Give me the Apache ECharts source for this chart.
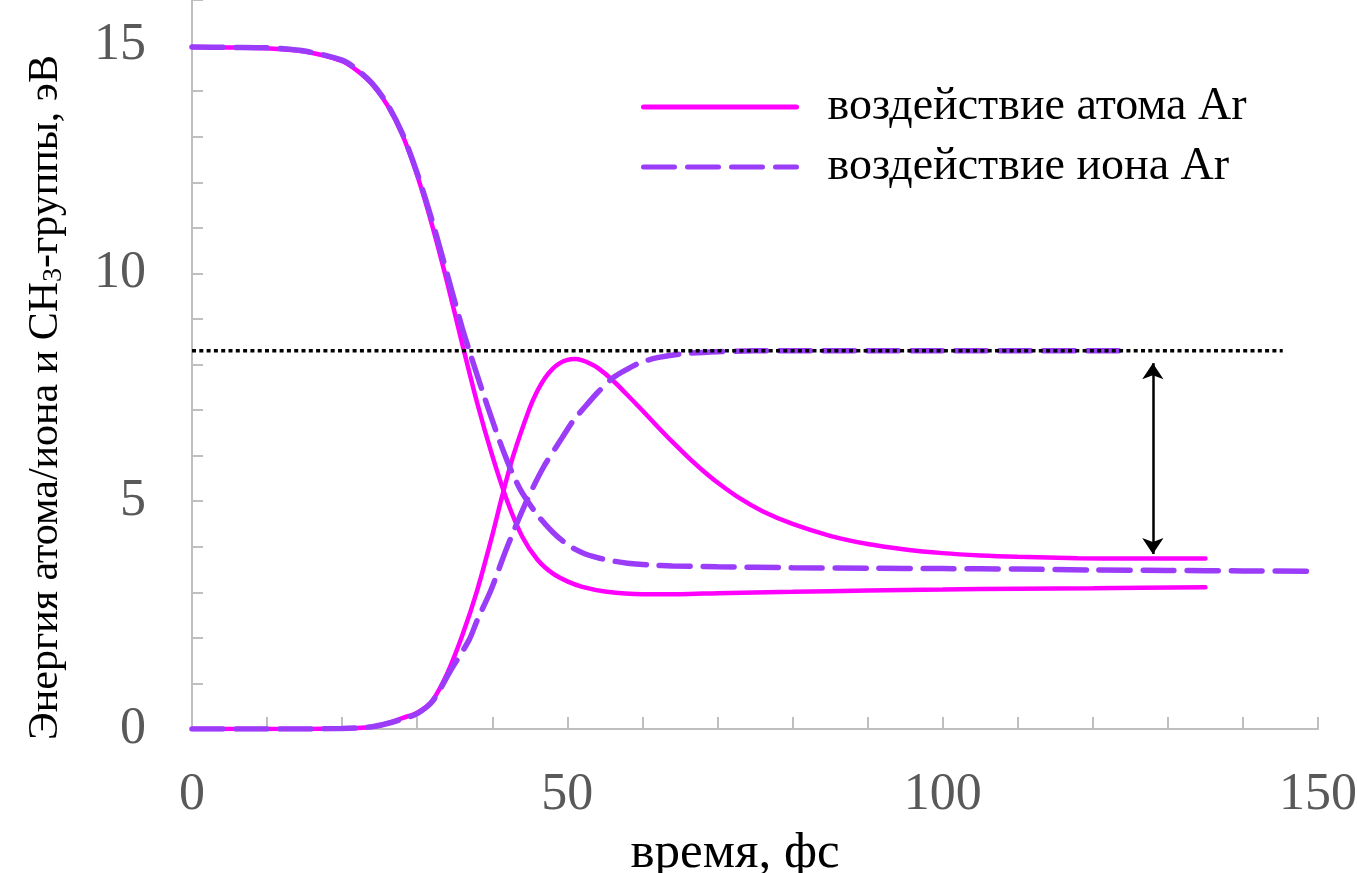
<!DOCTYPE html>
<html>
<head>
<meta charset="utf-8">
<title>Энергия атома/иона и CH3-группы</title>
<script src="https://cdn.jsdelivr.net/npm/echarts@6/dist/echarts.min.js"></script>
<style>
  html, body { margin: 0; padding: 0; background: #fff; }
  #chart { width: 1357px; height: 873px; }
</style>
</head>
<body>
<div id="chart"></div>
<script>
// время, фс / энергия, эВ
const atomDownT = [0, 5, 10, 15, 20, 22, 24, 26, 28, 30, 32, 34, 36, 38, 40, 42, 44, 46, 48, 50, 52, 55, 60, 65, 70, 80, 90, 100, 110, 120, 135];
const atomDownE = [14.97, 14.96, 14.94, 14.87, 14.66, 14.45, 14.15, 13.7, 13.05, 12.15, 11.05, 9.8, 8.45, 7.15, 6.0, 5.0, 4.22, 3.72, 3.42, 3.24, 3.12, 3.02, 2.96, 2.96, 2.98, 3.01, 3.04, 3.06, 3.08, 3.09, 3.11];

const atomUpT = [0, 10, 20, 24, 26, 28, 30, 32, 34, 36, 38, 40, 41.3, 42.8, 45, 46, 47, 48, 49, 50, 51, 52, 53, 54, 56, 58, 60, 62, 64, 66, 68, 70, 73, 76, 80, 85, 90, 95, 100, 105, 110, 118, 125, 135];
const atomUpE = [0, 0, 0.01, 0.05, 0.12, 0.24, 0.36, 0.62, 1.22, 2.05, 3.05, 4.25, 5.1, 6.0, 7.05, 7.42, 7.7, 7.9, 8.03, 8.1, 8.12, 8.09, 8.02, 7.93, 7.66, 7.33, 6.99, 6.64, 6.3, 5.98, 5.68, 5.41, 5.06, 4.78, 4.5, 4.24, 4.06, 3.94, 3.86, 3.81, 3.78, 3.75, 3.74, 3.74];

const ionDownT = [0, 5, 10, 15, 20, 22, 24, 26, 28, 30, 32, 34, 36, 37, 38, 39, 40, 41, 42, 43, 44, 46, 48, 50, 52, 54, 56, 58, 61, 64, 70, 80, 90, 100, 110, 120, 130, 140, 150];
const ionDownE = [14.97, 14.96, 14.95, 14.88, 14.68, 14.47, 14.17, 13.72, 13.08, 12.2, 11.15, 9.98, 8.8, 8.27, 7.76, 7.26, 6.78, 6.31, 5.88, 5.5, 5.18, 4.7, 4.33, 4.05, 3.87, 3.76, 3.69, 3.64, 3.6, 3.58, 3.56, 3.54, 3.53, 3.52, 3.51, 3.49, 3.48, 3.47, 3.46];

const ionUpT = [0, 10, 20, 24, 26, 28, 30, 32, 34.5, 36.9, 38, 39.8, 42, 44.6, 46.8, 49.3, 50.8, 52.5, 54, 56.1, 58, 59.7, 62, 65, 70, 75, 80, 90, 100, 110, 125];
const ionUpE = [0, 0, 0.01, 0.05, 0.12, 0.22, 0.34, 0.6, 1.3, 1.95, 2.39, 3.04, 4.0, 5.01, 5.74, 6.39, 6.77, 7.1, 7.38, 7.71, 7.9, 8.04, 8.15, 8.23, 8.28, 8.3, 8.3, 8.3, 8.3, 8.3, 8.3];

// пунктирный уровень и стрелка
const levelT = [0, 145.3];
const levelE = 8.3;
const arrowT = 128;
const arrowE = [8.03, 3.84];

const xTickLabels = [0, 50, 100, 150];
const yTickLabels = [0, 5, 10, 15];

const legendNames = ['воздействие атома Ar', 'воздействие иона Ar'];

const zip = (xs, ys) => xs.map((x, i) => [x, ys[i]]);

const MAGENTA = '#ff00ff';
const PURPLE = '#9b3df8';
const FONT = 'Liberation Serif';

const chart = echarts.init(document.getElementById('chart'));

const atomLine = { width: 4.5, color: MAGENTA, type: 'solid', cap: 'round' };
const ionLine = { width: 5.5, color: PURPLE, type: [31, 13], cap: 'round' };

const option = {
  animation: false,
  backgroundColor: '#fff',
  grid: { left: 192, right: 39, top: 0, bottom: 144, containLabel: false, outerBoundsMode: 'none' },
  legend: {
    data: legendNames,
    orient: 'vertical',
    left: 636,
    top: 79,
    itemWidth: 153,
    itemHeight: 20,
    itemGap: 14,
    itemStyle: { color: 'transparent', borderWidth: 0, opacity: 0 },
    lineStyle: { width: 5 },
    textStyle: { fontFamily: FONT, fontSize: 46, color: '#000', padding: [0, 0, 0, 26], lineHeight: 46 }
  },
  xAxis: {
    type: 'value',
    min: 0,
    max: 150,
    interval: 10,
    name: 'время, фс',
    nameLocation: 'middle',
    nameGap: 99,
    nameTextStyle: { fontFamily: FONT, fontSize: 51, color: '#000', padding: [0, 40, 0, 0] },
    axisLine: { lineStyle: { color: '#bfbfbf', width: 2 } },
    axisTick: { inside: true, length: 12, lineStyle: { color: '#bfbfbf', width: 2 } },
    splitLine: { show: false },
    axisLabel: {
      fontFamily: FONT, fontSize: 52, color: '#595959', margin: 40,
      formatter: v => (xTickLabels.includes(v) ? String(v) : '')
    }
  },
  yAxis: {
    type: 'value',
    min: 0,
    max: 16,
    interval: 1,
    name: 'Энергия атома/иона и CH{sub|3}-группы, эВ',
    nameLocation: 'middle',
    nameGap: 124,
    nameTextStyle: {
      fontFamily: FONT, fontSize: 42, color: '#000', padding: [0, 66, 0, 0],
      rich: { sub: { fontFamily: FONT, fontSize: 28, color: '#000', padding: [16, 0, 0, 0] } }
    },
    axisLine: { show: true, lineStyle: { color: '#bfbfbf', width: 2 } },
    axisTick: { inside: true, length: 11, lineStyle: { color: '#bfbfbf', width: 2 } },
    splitLine: { show: false },
    axisLabel: {
      fontFamily: FONT, fontSize: 52, color: '#595959', margin: 46,
      formatter: v => (yTickLabels.includes(v) ? String(v) : '')
    }
  },
  series: [
    {
      name: legendNames[0], type: 'line', data: zip(atomDownT, atomDownE),
      symbol: 'none', smooth: 0.3, lineStyle: atomLine, itemStyle: { color: MAGENTA }, z: 2
    },
    {
      name: legendNames[0], type: 'line', data: zip(atomUpT, atomUpE),
      symbol: 'none', smooth: 0.3, lineStyle: atomLine, itemStyle: { color: MAGENTA }, z: 2
    },
    {
      name: legendNames[1], type: 'line', data: zip(ionDownT, ionDownE),
      symbol: 'none', smooth: 0.3, lineStyle: ionLine, itemStyle: { color: PURPLE }, z: 3
    },
    {
      name: legendNames[1], type: 'line', data: zip(ionUpT, ionUpE),
      symbol: 'none', smooth: 0.3, lineStyle: ionLine, itemStyle: { color: PURPLE }, z: 3
    },
    {
      name: 'уровень', type: 'line', data: levelT.map(t => [t, levelE]),
      symbol: 'none', lineStyle: { color: '#000', width: 3.5, type: [4, 3.3] }, z: 4,
      silent: true,
      markLine: {
        silent: true,
        symbol: ['arrow', 'arrow'],
        symbolSize: 16,
        label: { show: false },
        lineStyle: { color: '#000', width: 2.5, type: 'solid' },
        data: [[{ coord: [arrowT, arrowE[0]] }, { coord: [arrowT, arrowE[1]] }]]
      }
    }
  ]
};

chart.setOption(option);
</script>
</body>
</html>
